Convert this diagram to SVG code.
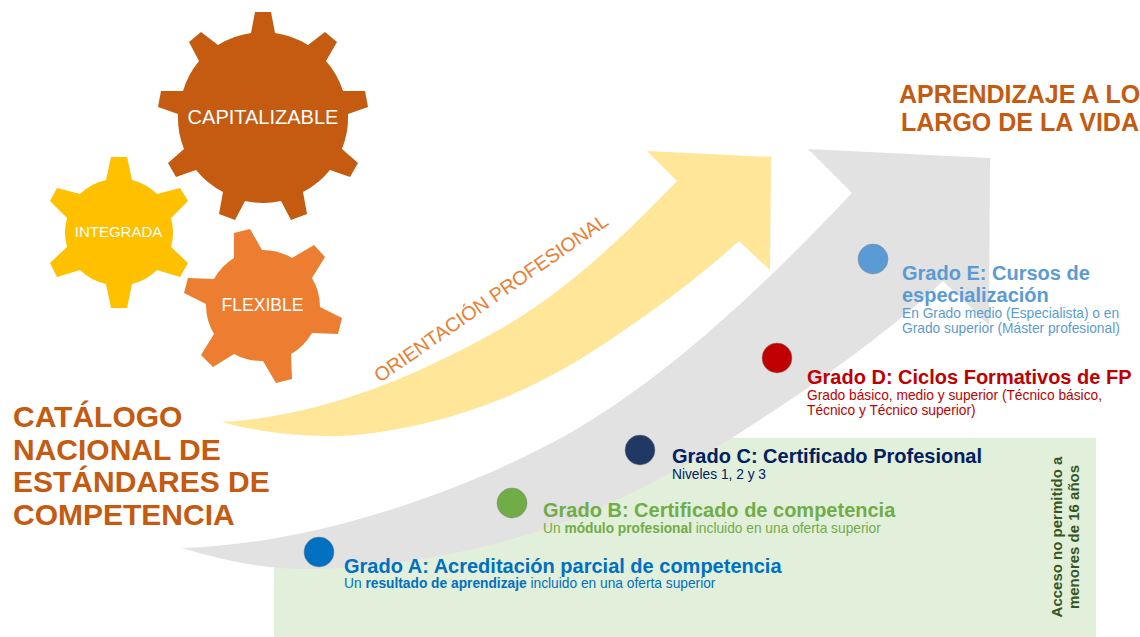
<svg xmlns="http://www.w3.org/2000/svg" width="1140" height="637" viewBox="0 0 1140 637">
<style>
text{font-family:"Liberation Sans",Arial,sans-serif}
.h{font-weight:700;fill:#C55A11}
.gl{fill:#fff;text-anchor:middle}
.t{font-size:20px;font-weight:700}
.s{font-size:13.75px}
.s tspan.b{font-weight:700}
.dot{stroke:#888;stroke-opacity:.5;stroke-width:1}
</style>
<path id="zona-menores" d="M274 560L400 540L570 490L720 438L1096 438L1096 637L274 637Z" fill="#E2EFDA"/>
<g id="connectors">
<path id="flecha-orientacion" fill="#FFE699" d="M222 422C310 417 400 385 493 333C560 297 620 240 677 181L647 151L771 157L770 270L739 241C700 276 660 306 620 333C560 375 500 405 430 422C390 432 350 437 327 436C290 436 255 431 222 422Z"/>
<path id="flecha-aprendizaje" fill="#E2E2E2" d="M182 548C300 545 450 500 570 433C670 376 770 280 852 193L808 149L990 158L989 325L943 281C880 340 800 395 727 441C670 475 620 500 570 520C480 555 370 570 300 569C255 568 215 558 182 548Z"/>
</g>
<g id="gear-capitalizable">
<path fill="#C55A11" d="M251 33L255 12L271 12L275 33A85 85 0 0 1 308 45L325 32L337 42L326 61A85 85 0 0 1 343 91L365 91L368 107L348 114A85 85 0 0 1 342 149L358 163L350 177L330 170A85 85 0 0 1 303 192L307 214L291 220L281 201A85 85 0 0 1 245 201L235 220L219 214L223 192A85 85 0 0 1 196 170L176 177L168 163L184 149A85 85 0 0 1 178 114L158 107L161 91L183 91A85 85 0 0 1 199 61L189 42L201 32L218 45A85 85 0 0 1 251 33Z"/>
<text class="gl" x="263" y="124" font-size="20">CAPITALIZABLE</text>
</g>
<g id="gear-integrada">
<path fill="#FFC000" d="M106 180L111 157L127 157L132 180A54 54 0 0 1 157 194L180 188L188 201L171 218A54 54 0 0 1 171 247L188 263L180 277L157 270A54 54 0 0 1 132 284L127 308L111 308L106 284A54 54 0 0 1 80 270L57 277L50 263L67 247A54 54 0 0 1 67 218L50 201L57 188L80 194A54 54 0 0 1 106 180Z"/>
<text class="gl" x="118.500" y="237" font-size="15">INTEGRADA</text>
</g>
<g id="gear-flexible">
<path fill="#ED7D31" d="M234 233L250 229L262 250A57 57 0 0 1 292 258L314 245L325 257L312 278A57 57 0 0 1 320 307L342 318L338 334L312 333A57 57 0 0 1 291 354L292 379L276 383L263 361A57 57 0 0 1 234 354L213 367L201 355L214 334A57 57 0 0 1 206 304L184 293L188 278L214 279A57 57 0 0 1 234 258Z"/>
<text class="gl" x="262.500" y="311" font-size="17.600">FLEXIBLE</text>
</g>
<text id="titulo-catalogo" class="h" font-size="30"><tspan x="13" y="427">CATÁLOGO</tspan><tspan x="13" y="459.500">NACIONAL DE</tspan><tspan x="13" y="492">ESTÁNDARES DE</tspan><tspan x="13" y="525">COMPETENCIA</tspan></text>
<text id="titulo-aprendizaje" class="h" font-size="25"><tspan x="899" y="103">APRENDIZAJE A LO</tspan><tspan x="901" y="131">LARGO DE LA VIDA</tspan></text>
<text id="orientacion" font-size="19.600" fill="#ED7D31" transform="translate(380 383) rotate(-34.700)">ORIENTACIÓN PROFESIONAL</text>
<g id="grado-a">
<circle class="dot" cx="319" cy="552" r="15" fill="#0070C0"/>
<text class="t" x="344" y="572.500" fill="#0070C0">Grado A: Acreditación parcial de competencia</text>
<text class="s" x="344" y="588" fill="#0070C0">Un <tspan class="b">resultado de aprendizaje</tspan> incluido en una oferta superior</text>
</g>
<g id="grado-b">
<circle class="dot" cx="512" cy="503" r="15" fill="#70AD47"/>
<text class="t" x="543" y="517" fill="#70AD47">Grado B: Certificado de competencia</text>
<text class="s" x="543" y="533" fill="#70AD47">Un <tspan class="b">módulo profesional</tspan> incluido en una oferta superior</text>
</g>
<g id="grado-c">
<circle class="dot" cx="640" cy="450" r="15" fill="#1F3864"/>
<text class="t" x="672" y="463" fill="#002060">Grado C: Certificado Profesional</text>
<text class="s" x="672" y="479" fill="#002060">Niveles 1, 2 y 3</text>
</g>
<g id="grado-d">
<circle class="dot" cx="777" cy="358" r="15" fill="#C00000"/>
<text class="t" x="807" y="384" fill="#C00000">Grado D: Ciclos Formativos de FP</text>
<text class="s" fill="#C00000"><tspan x="807" y="400">Grado básico, medio y superior (Técnico básico,</tspan><tspan x="807" y="415">Técnico y Técnico superior)</tspan></text>
</g>
<g id="grado-e">
<circle class="dot" cx="873" cy="259" r="15" fill="#5B9BD5"/>
<text class="t" fill="#5B9BD5"><tspan x="902" y="280">Grado E: Cursos de</tspan><tspan x="902" y="302">especialización</tspan></text>
<text class="s" fill="#5B9BD5"><tspan x="902" y="318">En Grado medio (Especialista) o en</tspan><tspan x="902" y="333">Grado superior (Máster profesional)</tspan></text>
</g>
<text id="acceso" font-size="15" font-weight="700" fill="#375623" text-anchor="middle" transform="translate(1062 537) rotate(-90)"><tspan x="0" y="0">Acceso no permitido a</tspan><tspan x="0" y="17">menores de 16 años</tspan></text>
</svg>
